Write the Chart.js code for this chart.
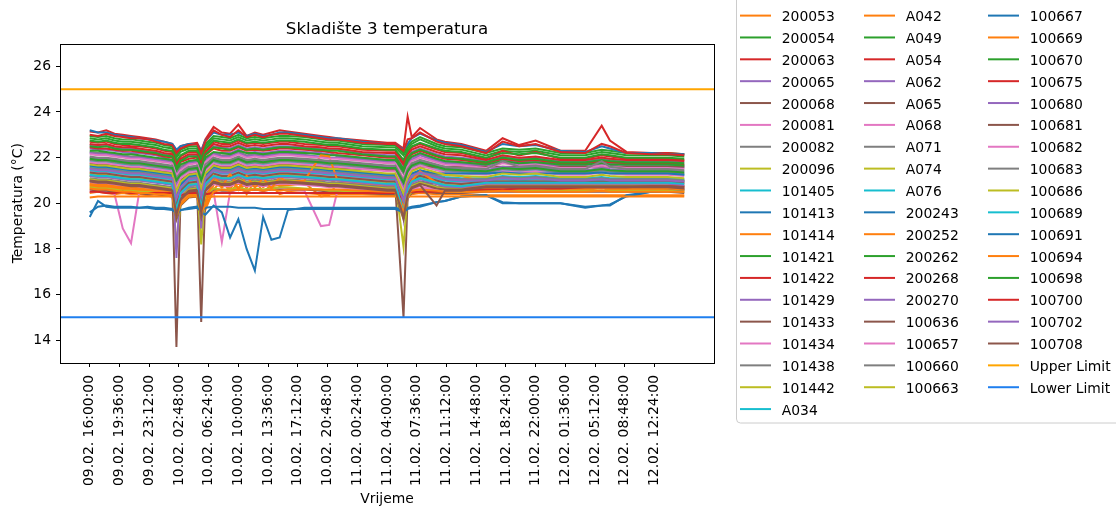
<!DOCTYPE html>
<html>
<head>
<meta charset="utf-8">
<script src="https://cdn.jsdelivr.net/npm/chart.js@4.4.1/dist/chart.umd.min.js"></script>
<style>
  html, body { margin: 0; padding: 0; background: #fff; overflow: hidden; }
</style>
</head>
<body>
<canvas id="chart" width="1116" height="509"></canvas>
<script>
// hours since 09.02. 16:00
const hours = [0,1,2,3,4,5,6,7,8,9,10,10.5,11,12,13,13.5,14,15,16,17,18,19,20,21,22,23,24,26,28,29,30,33,36,37,38,38.5,39,40,42,43,45,48,50,52,54,57,60,62,63,65,68,70,72];

const tickLabels = ['09.02. 16:00:00','09.02. 19:36:00','09.02. 23:12:00','10.02. 02:48:00','10.02. 06:24:00',
  '10.02. 10:00:00','10.02. 13:36:00','10.02. 17:12:00','10.02. 20:48:00','11.02. 00:24:00','11.02. 04:00:00',
  '11.02. 07:36:00','11.02. 11:12:00','11.02. 14:48:00','11.02. 18:24:00','11.02. 22:00:00','12.02. 01:36:00',
  '12.02. 05:12:00','12.02. 08:48:00','12.02. 12:24:00'];
const tickStep = 3.6;
const yTicks = [14, 16, 18, 20, 22, 24, 26];
const upperLimit = 25;
const lowerLimit = 15;

const s200053 = [20.45,20.5,20.45,20.4,20.45,20.4,20.4,20.35,20.4,20.35,20.3,20.0,20.2,20.3,20.3,20.0,19.7,20.6,21.0,20.5,20.9,20.4,21.0,20.5,20.8,20.4,20.5,20.45,20.4,20.4,
  20.4,20.4,20.35,20.35,20.0,20.3,20.4,20.45,20.4,20.4,20.4,20.35,20.35,20.35,20.35,20.35,20.35,20.35,20.35,20.35,20.35,20.35,20.35];
const s200054 = [22.95,22.9,22.95,22.85,22.8,22.8,22.75,22.7,22.65,22.55,22.5,22.1,22.35,22.5,22.5,22.1,22.6,22.95,22.9,22.85,23.0,22.85,22.9,22.85,22.9,22.95,22.95,22.9,22.8,22.75,
  22.75,22.6,22.55,22.55,22.2,22.5,22.7,22.9,22.6,22.5,22.45,22.2,22.4,22.35,22.4,22.2,22.2,22.35,22.3,22.2,22.2,22.2,22.15];
const s200063 = [23.15,23.1,23.2,23.05,23.0,22.95,22.9,22.85,22.8,22.7,22.6,22.3,22.5,22.6,22.65,22.3,22.8,23.35,23.1,23.05,23.45,22.95,23.1,23.0,23.1,23.2,23.15,23.05,22.95,22.9,
  22.85,22.75,22.65,22.65,22.4,23.8,22.9,23.3,22.8,22.7,22.6,22.3,22.85,22.55,22.75,22.3,22.3,23.4,22.75,22.25,22.2,22.2,22.15];
const s200065 = [22.55,22.5,22.55,22.45,22.4,22.4,22.35,22.3,22.25,22.15,22.1,21.6,21.9,22.1,22.1,21.6,22.2,22.5,22.45,22.4,22.55,22.4,22.45,22.4,22.45,22.5,22.5,22.45,22.4,22.35,
  22.35,22.2,22.1,22.1,21.6,22.05,22.25,22.4,22.15,22.05,22.0,21.85,22.05,21.95,22.0,21.85,21.85,21.95,21.9,21.85,21.85,21.85,21.8];
const s200068 = [21.0,20.95,20.95,20.9,20.9,20.85,20.85,20.8,20.8,20.75,20.7,13.7,20.2,20.6,20.7,14.8,20.4,20.9,20.85,20.85,21.0,20.85,20.9,20.85,20.9,20.95,20.95,20.9,20.85,20.8,
  20.8,20.75,20.7,20.7,15.0,20.3,20.8,20.95,20.85,20.8,20.8,21.05,21.05,21.05,21.05,21.05,21.05,21.05,21.05,21.05,21.05,21.05,21.0];
const s200081 = [20.5,20.55,20.5,20.4,18.9,18.25,20.5,20.55,20.5,20.5,20.45,19.8,20.2,20.45,20.5,19.9,20.3,20.5,18.3,20.5,20.6,20.55,20.6,20.55,20.6,20.6,20.6,20.55,19.0,19.05,
  20.55,20.55,20.5,20.5,19.8,20.4,20.6,20.65,20.65,20.6,20.6,20.65,20.7,20.65,20.7,20.65,20.65,20.7,20.7,20.7,20.7,20.7,20.7];
const s200082 = [22.25,22.2,22.2,22.15,22.1,22.05,22.05,22.0,21.95,21.9,21.85,21.3,21.6,21.8,21.85,21.35,21.9,22.2,22.1,22.1,22.25,22.1,22.15,22.1,22.15,22.2,22.2,22.15,22.3,22.25,
  22.05,21.95,21.85,21.85,21.3,21.75,22.0,22.15,21.9,21.8,21.75,21.65,21.95,21.8,21.75,21.65,21.65,21.9,21.8,21.65,21.65,21.65,21.6];
const s200096 = [21.2,21.15,21.15,21.1,21.05,21.0,21.0,20.95,20.95,20.9,20.85,18.1,20.0,20.7,20.8,18.2,20.5,21.1,21.05,21.05,21.2,21.05,21.1,21.05,21.1,21.15,21.15,21.1,21.05,21.0,
  21.0,20.95,20.9,20.9,18.1,20.5,20.9,21.1,20.95,20.9,20.9,21.0,21.0,21.0,21.0,21.0,21.0,21.0,21.0,21.0,21.0,21.0,20.95];
const s101405 = [21.85,21.8,21.8,21.75,21.7,21.65,21.65,21.6,21.55,21.5,21.45,20.8,21.15,21.4,21.45,20.9,21.45,21.8,21.7,21.7,21.85,21.7,21.75,21.7,21.75,21.8,21.8,21.75,21.7,21.65,
  21.65,21.55,21.45,21.45,20.7,21.3,21.55,21.7,21.5,21.4,21.35,21.3,21.45,21.4,21.45,21.3,21.3,21.4,21.35,21.3,21.3,21.3,21.25];
const s101413 = [19.6,19.85,19.9,19.85,19.85,19.85,19.8,19.85,19.8,19.8,19.75,19.5,19.7,19.8,19.85,19.6,19.5,19.9,19.6,18.5,19.3,18.0,17.05,19.4,18.4,18.5,19.7,19.8,19.8,19.8,
  19.8,19.8,19.8,19.8,19.7,19.8,19.85,19.9,20.05,20.1,20.3,20.35,20.05,20.0,20.0,20.0,19.85,19.9,19.95,20.3,20.5,20.55,20.6];
const s101414 = [20.8,20.75,20.75,20.7,20.65,20.65,20.6,20.55,20.55,20.5,20.45,19.6,20.05,20.4,20.45,19.7,20.0,20.8,21.2,20.6,21.25,20.65,21.2,20.7,21.0,20.75,20.8,20.9,20.3,20.35,
  20.9,20.85,20.75,20.75,19.7,20.55,20.9,21.3,20.85,20.75,20.7,20.6,20.65,20.6,20.65,20.6,20.6,20.65,20.6,20.6,20.6,20.6,20.55];
const s101421 = [22.85,22.8,22.85,22.75,22.7,22.7,22.65,22.6,22.55,22.45,22.4,22.0,22.25,22.4,22.4,22.0,22.5,22.85,22.8,22.75,22.9,22.75,22.8,22.75,22.8,22.85,22.85,22.8,22.7,22.65,
  22.65,22.5,22.45,22.45,22.1,22.4,22.6,22.8,22.5,22.4,22.35,22.1,22.3,22.25,22.3,22.1,22.1,22.25,22.2,22.1,22.1,22.1,22.05];
const s101422 = [22.7,22.65,22.7,22.6,22.55,22.5,22.5,22.45,22.4,22.3,22.25,21.8,22.05,22.25,22.25,21.8,22.35,22.7,22.6,22.6,22.75,22.6,22.65,22.6,22.65,22.7,22.7,22.6,22.55,22.5,
  22.5,22.35,22.3,22.3,21.8,22.25,22.45,22.6,22.35,22.25,22.2,21.95,22.3,22.1,22.25,21.95,21.95,22.1,22.05,21.95,21.95,21.95,21.9];
const s101429 = [22.4,22.35,22.35,22.3,22.25,22.2,22.2,22.15,22.1,22.0,21.9,17.6,21.2,21.8,21.9,18.9,21.4,22.2,22.2,22.2,22.35,22.2,22.25,22.2,22.25,22.3,22.3,22.25,22.2,22.15,
  22.1,22.0,21.9,21.9,19.35,21.6,22.0,22.2,21.95,21.85,21.8,21.7,21.9,21.8,21.85,21.7,21.7,21.8,21.75,21.7,21.7,21.7,21.65];
const s101433 = [20.6,20.55,20.55,20.5,20.5,20.45,20.45,20.4,20.4,20.35,20.3,19.3,19.9,20.25,20.3,19.4,20.3,20.6,20.55,20.55,20.6,20.55,20.6,20.55,20.6,20.6,20.6,20.6,20.55,20.5,
  20.5,20.45,20.4,20.4,19.3,20.2,20.45,20.55,20.45,20.45,20.45,20.5,20.5,20.5,20.5,20.5,20.5,20.5,20.5,20.5,20.5,20.5,20.45];
const s101434 = [21.4,21.35,21.35,21.3,21.25,21.2,21.2,21.15,21.1,21.05,21.0,20.0,20.6,20.95,21.0,20.1,21.0,21.35,21.25,21.25,21.4,21.25,21.3,21.25,21.3,21.35,21.35,21.3,21.25,21.2,
  21.2,21.1,21.0,21.0,19.9,20.8,21.1,21.25,21.05,20.95,20.9,20.95,21.0,20.95,21.0,20.95,20.95,20.95,20.95,20.95,20.95,20.95,20.9];
const s101438 = [21.9,21.85,21.85,21.8,21.75,21.7,21.7,21.65,21.6,21.55,21.5,20.9,21.2,21.45,21.5,20.95,21.5,21.85,21.75,21.75,21.9,21.75,21.8,21.75,21.8,21.85,21.85,21.8,21.75,21.7,
  21.7,21.6,21.5,21.5,20.8,21.35,21.6,21.75,21.55,21.45,21.4,21.35,21.5,21.45,21.5,21.35,21.35,21.45,21.4,21.35,21.35,21.35,21.3];
const s101442 = [21.3,21.25,21.25,21.2,21.15,21.1,21.1,21.05,21.0,20.95,20.9,19.8,20.5,20.85,20.9,19.9,20.9,21.25,21.15,21.15,21.3,21.15,21.2,21.15,21.2,21.25,21.25,21.2,21.15,21.1,
  21.1,21.0,20.9,20.9,19.7,20.7,21.0,21.15,20.95,20.85,20.8,20.9,20.95,20.9,20.95,20.9,20.9,20.95,20.9,20.9,20.9,20.9,20.85];
const sA034 = [21.6,21.55,21.55,21.5,21.45,21.4,21.4,21.35,21.3,21.25,21.2,20.4,20.85,21.15,21.2,20.5,21.2,21.55,21.45,21.45,21.6,21.45,21.5,21.45,21.5,21.55,21.55,21.5,21.45,21.4,
  21.4,21.3,21.2,21.2,20.3,21.0,21.3,21.45,21.25,21.15,21.1,21.1,21.2,21.15,21.2,21.1,21.1,21.15,21.1,21.1,21.1,21.1,21.05];
const sA042 = [20.75,20.7,20.7,20.65,20.6,20.6,20.55,20.5,20.5,20.45,20.4,19.5,20.0,20.35,20.4,19.6,20.3,20.9,20.7,20.9,20.7,20.8,20.75,20.8,20.75,20.8,20.8,20.85,21.0,21.05,
  20.85,20.8,20.7,20.7,19.6,20.5,21.0,21.3,21.3,21.25,21.2,20.9,20.85,20.8,20.8,20.75,20.7,20.75,20.7,20.7,20.7,20.7,20.65];
const sA049 = [22.75,22.7,22.75,22.65,22.6,22.6,22.55,22.5,22.45,22.35,22.3,21.85,22.1,22.3,22.3,21.9,22.4,22.75,22.7,22.65,22.8,22.65,22.7,22.65,22.7,22.75,22.75,22.7,22.6,22.55,
  22.55,22.4,22.35,22.35,21.9,22.3,22.5,22.65,22.4,22.3,22.25,22.0,22.2,22.15,22.2,22.0,22.0,22.15,22.1,22.0,22.0,22.0,21.95];
const sA054 = [22.45,22.4,22.4,22.35,22.3,22.3,22.25,22.2,22.15,22.05,22.0,21.5,21.8,21.95,22.0,21.5,22.1,22.4,22.3,22.3,22.45,22.3,22.35,22.3,22.35,22.4,22.4,22.35,22.3,22.25,
  22.2,22.1,22.0,22.0,21.45,21.95,22.15,22.3,22.05,21.95,21.9,21.75,21.95,21.85,21.9,21.75,21.75,21.85,21.8,21.75,21.75,21.75,21.7];
const sA062 = [22.2,22.15,22.15,22.1,22.05,22.0,22.0,21.95,21.9,21.85,21.8,21.2,21.5,21.75,21.8,21.3,21.85,22.15,22.05,22.05,22.2,22.05,22.1,22.05,22.1,22.15,22.15,22.1,22.05,22.0,
  22.0,21.9,21.8,21.8,20.9,21.6,21.9,22.1,21.85,21.75,21.7,21.6,21.8,21.7,21.75,21.6,21.6,21.7,21.65,21.6,21.6,21.6,21.55];
const sA065 = [21.75,21.7,21.7,21.65,21.6,21.55,21.55,21.5,21.45,21.4,21.35,20.6,21.0,21.3,21.35,20.7,21.35,21.7,21.6,21.6,21.75,21.6,21.65,21.6,21.65,21.7,21.7,21.65,21.6,21.55,
  21.55,21.5,21.45,21.45,20.5,21.2,21.45,21.6,21.6,21.6,21.6,21.6,21.6,21.6,21.6,21.6,21.6,21.6,21.6,21.6,21.6,21.6,21.6];
const sA068 = [21.8,21.75,21.75,21.7,21.65,21.6,21.6,21.55,21.5,21.45,21.4,20.7,21.1,21.35,21.4,20.8,21.4,21.75,21.65,21.65,21.8,21.65,21.7,21.65,21.7,21.75,21.75,21.7,21.65,21.6,
  21.6,21.5,21.4,21.4,20.6,21.25,21.5,21.65,21.45,21.35,21.3,21.25,21.4,21.35,21.4,21.25,21.25,21.35,21.3,21.25,21.25,21.25,21.2];
const sA071 = [21.1,21.05,21.05,21.0,20.95,20.9,20.9,20.85,20.8,20.75,20.7,19.6,20.3,20.65,20.7,19.7,20.7,21.05,20.95,20.95,21.1,20.95,21.0,20.95,21.0,21.05,21.05,21.0,20.95,20.9,
  20.9,20.8,20.7,20.7,19.6,20.5,20.8,20.95,20.75,20.7,20.7,20.8,20.8,20.8,20.8,20.8,20.8,20.8,20.8,20.8,20.8,20.8,20.75];
const sA074 = [21.05,21.0,21.0,20.95,20.9,20.85,20.85,20.8,20.75,20.7,20.65,19.5,20.25,20.6,20.65,19.6,20.65,21.0,20.9,20.9,21.05,20.9,20.95,20.9,20.95,21.0,21.0,20.95,20.9,20.85,
  20.85,20.75,20.65,20.65,19.5,20.45,20.75,20.9,20.7,20.65,20.65,20.8,20.8,20.8,20.8,20.8,20.8,20.8,20.8,20.8,20.8,20.8,20.75];
const sA076 = [21.45,21.4,21.4,21.35,21.3,21.25,21.25,21.2,21.15,21.1,21.05,20.1,20.65,21.0,21.05,20.2,21.05,21.4,21.3,21.3,21.45,21.3,21.35,21.3,21.35,21.4,21.4,21.35,21.3,21.25,
  21.25,21.15,21.05,21.05,20.0,20.85,21.15,21.3,21.1,21.0,20.95,21.0,21.05,21.0,21.05,21.0,21.0,21.0,21.0,21.0,21.0,21.0,20.95];
const s200243 = [19.4,20.1,19.85,19.8,19.8,19.8,19.8,19.8,19.75,19.75,19.7,19.6,19.7,19.75,19.8,19.7,19.8,19.85,19.85,19.85,19.8,19.8,19.8,19.75,19.75,19.75,19.75,19.75,19.75,19.75,
  19.75,19.75,19.75,19.75,19.6,19.75,19.8,19.85,20.05,20.1,20.3,20.35,20.0,20.0,20.0,20.0,19.8,19.9,19.9,20.35,20.5,20.55,20.6];
const s200252 = [20.25,20.3,20.3,20.3,20.3,20.3,20.3,20.3,20.3,20.3,20.3,20.2,20.25,20.3,20.3,20.2,20.25,20.3,20.3,20.3,20.3,20.3,20.3,20.3,20.3,20.3,20.3,20.3,20.3,20.3,
  20.3,20.3,20.3,20.3,20.25,20.3,20.3,20.3,20.3,20.3,20.3,20.3,20.3,20.3,20.3,20.3,20.3,20.3,20.3,20.3,20.3,20.3,20.3];
const s200262 = [22.3,22.3,22.25,22.2,22.15,22.15,22.1,22.05,22.0,21.95,21.9,21.45,21.7,21.85,21.9,21.45,22.0,22.25,22.2,22.15,22.3,22.2,22.2,22.15,22.2,22.25,22.25,22.2,22.15,22.1,
  22.1,22.0,21.9,21.9,21.4,21.85,22.05,22.2,21.95,21.85,21.8,21.7,21.85,21.75,21.8,21.7,21.7,21.75,21.7,21.7,21.7,21.7,21.65];
const s200268 = [22.6,22.55,22.6,22.5,22.45,22.45,22.4,22.35,22.3,22.2,22.15,21.7,21.95,22.15,22.15,21.7,22.25,22.6,22.5,22.5,22.65,22.5,22.55,22.5,22.55,22.6,22.6,22.5,22.45,22.4,
  22.4,22.25,22.2,22.2,21.7,22.15,22.35,22.5,22.25,22.15,22.1,21.9,22.1,22.0,22.05,21.9,21.9,22.0,21.95,21.9,21.9,21.9,21.85];
const s200270 = [22.0,21.95,21.95,21.9,21.85,21.8,21.8,21.75,21.7,21.65,21.6,20.9,21.3,21.55,21.6,21.0,21.6,21.95,21.85,21.85,22.0,21.85,21.9,21.85,21.9,21.95,21.95,21.9,21.85,21.8,
  21.8,21.7,21.6,21.6,20.8,21.45,21.7,21.85,21.65,21.55,21.5,21.45,21.6,21.55,21.6,21.45,21.45,21.55,21.5,21.45,21.45,21.45,21.4];
const s100636 = [21.35,21.3,21.3,21.25,21.2,21.15,21.15,21.1,21.05,21.0,20.95,19.9,20.55,20.9,20.95,20.0,20.95,21.3,21.2,21.2,21.35,21.2,21.25,21.2,21.25,21.3,21.3,21.25,21.2,21.15,
  21.15,21.05,20.95,20.95,19.8,20.75,21.05,21.2,21.0,20.9,20.85,20.95,20.95,20.95,20.95,20.95,20.95,20.95,20.95,20.95,20.95,20.95,20.9];
const s100657 = [20.9,20.85,20.85,20.8,20.75,20.7,20.7,20.65,20.6,20.55,20.5,19.6,20.1,20.45,20.5,19.7,20.5,20.85,20.75,20.75,20.9,20.75,20.8,20.75,20.8,20.85,20.85,20.8,20.75,20.7,
  20.7,20.6,20.5,20.5,19.5,20.3,20.6,20.75,20.55,20.5,20.5,20.7,20.7,20.7,20.7,20.7,20.7,20.7,20.7,20.7,20.7,20.7,20.65];
const s100660 = [21.55,21.5,21.5,21.45,21.4,21.35,21.35,21.3,21.25,21.2,21.15,20.3,20.8,21.1,21.15,20.4,21.15,21.5,21.4,21.4,21.55,21.4,21.45,21.4,21.45,21.5,21.5,21.45,21.4,21.35,
  21.35,21.25,21.15,21.15,20.2,20.95,21.25,21.4,21.2,21.1,21.05,21.05,21.15,21.1,21.15,21.05,21.05,21.1,21.05,21.05,21.05,21.05,21.0];
const s100663 = [20.7,20.65,20.65,20.6,20.55,20.55,20.5,20.5,20.45,20.4,20.35,19.4,19.95,20.3,20.35,19.5,20.35,20.65,20.6,20.6,20.7,20.6,20.65,20.6,20.65,20.7,20.7,20.65,20.6,20.55,
  20.55,20.5,20.45,20.45,19.4,20.3,20.5,20.6,20.5,20.5,20.5,20.55,20.55,20.55,20.55,20.55,20.55,20.55,20.55,20.55,20.55,20.55,20.5];
const s100667 = [21.65,21.6,21.6,21.55,21.5,21.45,21.45,21.4,21.35,21.3,21.25,20.3,20.8,21.2,21.25,20.4,21.25,21.6,21.5,21.5,21.65,21.5,21.55,21.5,21.55,21.6,21.6,21.55,21.5,21.45,
  21.45,21.35,21.25,21.25,20.2,21.0,21.3,21.45,21.3,21.3,21.3,21.3,21.35,21.3,21.3,21.3,21.3,21.35,21.3,21.3,21.3,21.3,21.25];
const s100669 = [20.85,20.8,20.8,20.75,20.7,20.7,20.65,20.6,20.6,20.55,20.5,19.7,20.1,20.45,20.5,19.8,19.9,21.2,20.7,21.3,20.6,21.2,20.7,21.1,20.65,21.15,20.9,21.0,22.1,22.05,
  21.0,20.9,20.8,20.8,19.8,20.6,21.0,21.4,20.9,20.8,20.75,20.65,20.7,20.65,20.7,20.65,20.65,20.7,20.65,20.65,20.65,20.65,20.6];
const s100670 = [22.5,22.45,22.5,22.4,22.35,22.35,22.3,22.25,22.2,22.1,22.05,21.55,21.85,22.05,22.05,21.55,22.15,22.45,22.4,22.35,22.5,22.35,22.4,22.35,22.4,22.45,22.45,22.4,22.35,22.3,
  22.3,22.15,22.05,22.05,21.5,22.0,22.2,22.35,22.1,22.0,21.95,21.8,22.0,21.9,21.95,21.8,21.8,21.9,21.85,21.8,21.8,21.8,21.75];
const s100675 = [20.5,20.5,20.45,20.45,20.5,20.45,20.45,20.45,20.45,20.45,20.45,20.2,20.35,20.45,20.45,20.2,20.4,20.45,20.45,20.45,20.45,20.45,20.45,20.45,20.45,20.45,20.45,20.45,20.45,20.45,
  20.45,20.45,20.45,20.45,20.2,20.45,20.5,20.5,20.5,20.5,20.55,20.6,20.6,20.65,20.65,20.65,20.7,20.7,20.7,20.7,20.75,20.75,20.75];
const s100680 = [21.2,21.15,21.15,21.1,21.05,21.0,21.0,20.95,20.9,20.85,20.8,19.5,20.4,20.75,20.8,19.6,20.8,21.15,21.05,21.05,21.2,21.05,21.1,21.05,21.1,21.15,21.15,21.1,21.05,21.0,
  21.0,20.9,20.8,20.8,19.5,20.6,20.9,21.05,20.85,20.75,20.7,20.85,20.85,20.85,20.85,20.85,20.85,20.85,20.85,20.85,20.85,20.85,20.8];
const s100681 = [21.0,20.95,20.95,20.9,20.85,20.8,20.8,20.75,20.7,20.65,20.6,19.4,20.2,20.55,20.6,19.5,20.6,20.95,20.85,20.85,21.0,20.85,20.9,20.85,20.9,20.95,20.95,20.9,20.85,20.8,
  20.8,20.7,20.6,20.6,19.4,20.4,20.7,20.85,20.65,20.6,20.6,20.75,20.75,20.75,20.75,20.75,20.75,20.75,20.75,20.75,20.75,20.75,20.7];
const s100682 = [22.15,22.1,22.1,22.05,22.0,21.95,21.95,21.9,21.85,21.8,21.75,21.2,21.45,21.7,21.75,21.2,21.8,22.1,22.0,22.0,22.15,22.0,22.05,22.0,22.05,22.1,22.1,22.05,22.0,21.95,
  21.95,21.85,21.75,21.75,21.1,21.6,21.85,22.0,21.8,21.7,21.65,21.55,21.75,21.65,21.7,21.55,21.55,21.65,21.6,21.55,21.55,21.55,21.5];
const s100683 = [22.05,22.0,22.0,21.95,21.9,21.85,21.85,21.8,21.75,21.7,21.65,21.1,21.35,21.6,21.65,21.1,21.7,22.0,21.9,21.9,22.05,21.9,21.95,21.9,21.95,22.0,22.0,21.95,21.9,21.85,
  21.85,21.75,21.65,21.65,21.0,21.5,21.75,21.9,21.7,21.6,21.55,21.5,21.85,21.6,21.65,21.5,21.5,21.85,21.6,21.5,21.5,21.5,21.45];
const s100686 = [21.7,21.65,21.65,21.6,21.55,21.5,21.5,21.45,21.4,21.35,21.3,20.5,20.95,21.25,21.3,20.6,21.3,21.65,21.55,21.55,21.7,21.55,21.6,21.55,21.6,21.65,21.65,21.6,21.55,21.5,
  21.5,21.4,21.3,21.3,20.4,21.1,21.4,21.55,21.35,21.25,21.2,21.15,21.3,21.25,21.3,21.15,21.15,21.25,21.2,21.15,21.15,21.15,21.1];
const s100689 = [21.25,21.2,21.2,21.15,21.1,21.05,21.05,21.0,20.95,20.9,20.85,19.7,20.45,20.8,20.85,19.8,20.85,21.2,21.1,21.1,21.25,21.1,21.15,21.1,21.15,21.2,21.2,21.15,21.1,21.05,
  21.05,20.95,20.85,20.85,19.6,20.65,20.95,21.1,20.9,20.8,20.75,20.9,20.9,20.9,20.9,20.9,20.9,20.9,20.9,20.9,20.9,20.9,20.85];
const s100691 = [23.2,23.1,23.1,23.0,22.95,22.9,22.85,22.8,22.75,22.7,22.6,22.35,22.5,22.6,22.6,22.3,22.75,23.1,23.0,23.0,23.1,22.95,23.05,22.95,23.0,23.1,23.1,23.0,22.9,22.85,
  22.85,22.7,22.6,22.6,22.35,22.6,22.85,23.05,22.75,22.65,22.55,22.25,22.6,22.5,22.55,22.3,22.25,22.5,22.4,22.2,22.2,22.15,22.15];
const s100694 = [20.65,20.6,20.6,20.55,20.5,20.5,20.45,20.45,20.4,20.4,20.35,19.5,19.95,20.3,20.35,19.6,19.9,20.5,20.6,20.55,20.6,20.55,20.6,20.55,20.6,20.55,20.6,20.6,20.6,20.6,
  20.6,20.55,20.5,20.5,19.6,20.4,20.55,20.6,20.55,20.5,20.5,20.5,20.55,20.5,20.5,20.5,20.5,20.55,20.5,20.5,20.5,20.5,20.5];
const s100698 = [21.95,21.9,21.9,21.85,21.8,21.75,21.75,21.7,21.65,21.6,21.55,21.0,21.25,21.5,21.55,21.0,21.55,21.9,21.8,21.8,21.95,21.8,21.85,21.8,21.85,21.9,21.9,21.85,21.8,21.75,
  21.75,21.65,21.55,21.55,20.9,21.4,21.65,21.8,21.6,21.5,21.45,21.4,21.55,21.5,21.55,21.4,21.4,21.5,21.45,21.4,21.4,21.4,21.35];
const s100700 = [23.0,22.95,23.05,22.95,22.9,22.85,22.85,22.8,22.7,22.6,22.55,22.2,22.4,22.55,22.6,22.2,22.7,23.2,23.0,22.9,23.2,22.9,23.0,22.9,23.0,23.05,23.05,22.95,22.85,22.8,
  22.8,22.65,22.6,22.6,22.3,22.8,22.85,23.1,22.7,22.6,22.5,22.2,22.7,22.5,22.6,22.25,22.2,22.6,22.5,22.2,22.15,22.15,22.1];
const s100702 = [21.5,21.45,21.45,21.4,21.35,21.3,21.3,21.25,21.2,21.15,21.1,20.2,20.7,21.05,21.1,20.3,21.1,21.45,21.35,21.35,21.5,21.35,21.4,21.35,21.4,21.45,21.45,21.4,21.35,21.3,
  21.3,21.2,21.1,21.1,20.1,20.9,21.2,21.35,21.15,21.05,21.0,21.0,21.1,21.05,21.1,21.0,21.0,21.05,21.0,21.0,21.0,21.0,20.95];
const s100708 = [20.95,20.9,20.9,20.85,20.8,20.75,20.75,20.7,20.65,20.6,20.55,19.5,20.15,20.5,20.55,19.6,20.55,20.9,20.8,20.8,20.95,20.8,20.85,20.8,20.85,20.9,20.9,20.85,20.8,20.75,
  20.75,20.65,20.55,20.55,19.4,20.35,20.65,20.8,19.9,20.55,20.55,20.7,20.7,20.7,20.7,20.7,20.7,20.7,20.7,20.7,20.7,20.7,20.65];

const seriesNames = ['200053','200054','200063','200065','200068','200081','200082','200096','101405','101413',
  '101414','101421','101422','101429','101433','101434','101438','101442','A034','A042','A049','A054','A062',
  'A065','A068','A071','A074','A076','200243','200252','200262','200268','200270','100636','100657','100660',
  '100663','100667','100669','100670','100675','100680','100681','100682','100683','100686','100689','100691',
  '100694','100698','100700','100702','100708'];
const seriesValues = [s200053,s200054,s200063,s200065,s200068,s200081,s200082,s200096,s101405,s101413,
  s101414,s101421,s101422,s101429,s101433,s101434,s101438,s101442,sA034,sA042,sA049,sA054,sA062,
  sA065,sA068,sA071,sA074,sA076,s200243,s200252,s200262,s200268,s200270,s100636,s100657,s100660,
  s100663,s100667,s100669,s100670,s100675,s100680,s100681,s100682,s100683,s100686,s100689,s100691,
  s100694,s100698,s100700,s100702,s100708];

// matplotlib tab10
const C = {blue:'#1f77b4', orange:'#ff7f0e', green:'#2ca02c', red:'#d62728', purple:'#9467bd',
  brown:'#8c564b', pink:'#e377c2', gray:'#7f7f7f', olive:'#bcbd22', cyan:'#17becf'};
const seriesColors = [
  C.orange,C.green,C.red,C.purple,C.brown,C.pink,C.gray,C.olive,C.cyan,C.blue,
  C.orange,C.green,C.red,C.purple,C.brown,C.pink,C.gray,C.olive,C.cyan,
  C.orange,C.green,C.red,C.purple,C.brown,C.pink,C.gray,C.olive,C.cyan,C.blue,
  C.orange,C.green,C.red,C.purple,C.brown,C.pink,C.gray,C.olive,
  C.blue,C.orange,C.green,C.red,C.purple,C.brown,C.pink,C.gray,C.olive,C.cyan,C.blue,
  C.orange,C.green,C.red,C.purple,C.brown];

const xMin = -tickStep, xMax = 72 + tickStep;
const total = seriesNames.length + 2;

const datasets = seriesNames.map((name, i) => ({
  label: name,
  data: hours.map((h, k) => ({x: h, y: seriesValues[i][k]})),
  borderColor: seriesColors[i],
  backgroundColor: seriesColors[i],
  borderWidth: 2,
  pointRadius: 0,
  tension: 0,
  order: total - i
}));
datasets.push({
  label: 'Upper Limit',
  data: [{x: xMin, y: upperLimit}, {x: xMax, y: upperLimit}],
  borderColor: '#ffa500', backgroundColor: '#ffa500',
  borderWidth: 2, pointRadius: 0, order: 1
});
datasets.push({
  label: 'Lower Limit',
  data: [{x: xMin, y: lowerLimit}, {x: xMax, y: lowerLimit}],
  borderColor: '#1f7fef', backgroundColor: '#1f7fef',
  borderWidth: 2, pointRadius: 0, order: 0
});

// frame around the plot + matplotlib-like legend on the right
const frameLegend = {
  id: 'frameLegend',
  afterDatasetsDraw(chart) {
    const {ctx, chartArea: a} = chart;
    ctx.save();
    ctx.strokeStyle = '#000';
    ctx.lineWidth = 1;
    ctx.strokeRect(Math.round(a.left) + 0.5, Math.round(a.top) + 0.5,
      Math.round(a.right - a.left), Math.round(a.bottom - a.top));
    ctx.restore();
  },
  afterDraw(chart) {
    const ctx = chart.ctx;
    const cols = [19, 18, 18];
    const colX = [740, 864, 988];
    const rowY0 = 15.6, rowH = 21.86;
    ctx.save();
    ctx.beginPath();
    ctx.roundRect(736.5, -10, 420, 433, 4);
    ctx.fillStyle = 'rgba(255,255,255,0.8)';
    ctx.fill();
    ctx.strokeStyle = '#cccccc';
    ctx.lineWidth = 1;
    ctx.stroke();
    ctx.font = "13.9px 'DejaVu Sans'";
    ctx.textBaseline = 'alphabetic';
    ctx.textAlign = 'left';
    let idx = 0;
    cols.forEach((n, c) => {
      for (let r = 0; r < n; r++, idx++) {
        const ds = chart.data.datasets[idx];
        const y = rowY0 + r * rowH;
        ctx.strokeStyle = ds.borderColor;
        ctx.lineWidth = 2;
        ctx.beginPath();
        ctx.moveTo(colX[c], y);
        ctx.lineTo(colX[c] + 31, y);
        ctx.stroke();
        ctx.fillStyle = '#000';
        ctx.fillText(ds.label, colX[c] + 41.7, y + 5.5);
      }
    });
    ctx.restore();
  }
};

Chart.defaults.font.family = "'DejaVu Sans', sans-serif";
Chart.defaults.font.size = 13.9;
Chart.defaults.color = '#000';

new Chart(document.getElementById('chart'), {
  type: 'line',
  data: {datasets},
  plugins: [frameLegend],
  options: {
    responsive: false,
    animation: false,
    devicePixelRatio: 1,
    layout: {padding: {left: 0, right: 402, top: 0, bottom: 0}},
    plugins: {
      legend: {display: false},
      tooltip: {enabled: false},
      title: {
        display: true,
        text: 'Skladište 3 temperatura',
        fullSize: false,
        color: '#000',
        font: {size: 16.7, weight: 'normal'},
        padding: {top: 19.5, bottom: 4}
      }
    },
    scales: {
      x: {
        type: 'linear',
        min: xMin,
        max: xMax,
        afterBuildTicks: axis => { axis.ticks = tickLabels.map((_, i) => ({value: i * tickStep})); },
        afterFit: axis => { axis.height = 146; },
        grid: {drawOnChartArea: false, drawTicks: true, tickLength: 4, color: '#000'},
        border: {display: false},
        ticks: {
          autoSkip: false, maxRotation: 90, minRotation: 90, padding: 8,
          callback: (v, i) => tickLabels[i]
        },
        title: {display: true, text: 'Vrijeme', padding: {top: 0, bottom: 1}}
      },
      y: {
        min: 13,
        max: 27,
        afterBuildTicks: axis => { axis.ticks = yTicks.map(v => ({value: v})); },
        afterFit: axis => { axis.width = 60; },
        grid: {drawOnChartArea: false, drawTicks: true, tickLength: 4, color: '#000'},
        border: {display: false},
        ticks: {padding: 5},
        title: {display: true, text: 'Temperatura (°C)', padding: {top: 10, bottom: 0}}
      }
    }
  }
});
</script>
</body>
</html>
